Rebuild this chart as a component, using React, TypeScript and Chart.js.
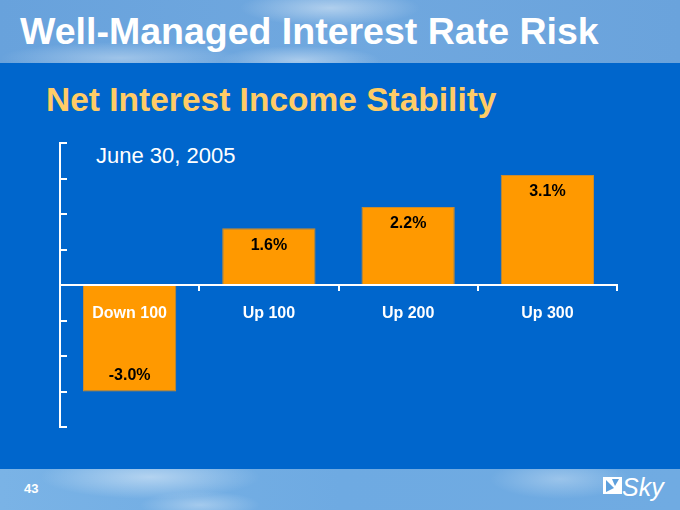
import React, { useEffect, useRef } from "react";
import { Chart, registerables } from "chart.js";

Chart.register(...registerables);

const categories = ["Down 100", "Up 100", "Up 200", "Up 300"];
const niiChange = [-3.0, 1.6, 2.2, 3.1];
const yTicks = [-4, -3, -2, -1, 0, 1, 2, 3, 4];
const titleText = "Well-Managed Interest Rate Risk";
const subtitleText = "Net Interest Income Stability";
const asOfText = "June 30, 2005";
const pageNo = "43";

const FONT = '"Liberation Sans", Arial, Helvetica, sans-serif';

export default function App() {
  const ref = useRef<HTMLCanvasElement | null>(null);

  useEffect(() => {
    const valueLabels = {
      id: "valueLabels",
      afterDatasetsDraw(chart: any) {
        const ctx = chart.ctx;
        const meta = chart.getDatasetMeta(0);
        ctx.save();
        ctx.fillStyle = "#000000";
        ctx.font = `bold 16px ${FONT}`;
        ctx.textAlign = "center";
        ctx.textBaseline = "middle";
        meta.data.forEach((bar: any, i: number) => {
          const v = niiChange[i];
          const y = v >= 0 ? bar.y + 17 : bar.y - 16;
          ctx.fillText(`${v.toFixed(1)}%`, bar.x, y);
        });
        ctx.restore();
      },
    };

    const yAxisBracket = {
      id: "yAxisBracket",
      afterDraw(chart: any) {
        const ctx = chart.ctx;
        const ys = chart.scales.y;
        const x = chart.chartArea.left;
        const top = ys.getPixelForValue(yTicks[yTicks.length - 1]);
        const bottom = ys.getPixelForValue(yTicks[0]);
        ctx.save();
        ctx.strokeStyle = "#ffffff";
        ctx.lineWidth = 2;
        ctx.beginPath();
        ctx.moveTo(x, top - 1);
        ctx.lineTo(x, bottom + 1);
        yTicks.forEach((t) => {
          const py = Math.round(ys.getPixelForValue(t));
          ctx.moveTo(x - 1, py);
          ctx.lineTo(x + 7, py);
        });
        ctx.stroke();
        ctx.restore();
      },
    };

    const chart = new Chart(ref.current as HTMLCanvasElement, {
      type: "bar",
      data: {
        labels: categories,
        datasets: [
          {
            data: niiChange,
            backgroundColor: "#FF9900",
            borderColor: "#C98A2E",
            borderWidth: 1,
            categoryPercentage: 1,
            barPercentage: 0.67,
          },
        ],
      },
      options: {
        animation: false,
        responsive: false,
        maintainAspectRatio: false,
        layout: { padding: { left: 60, right: 63, top: 143, bottom: 83 } },
        plugins: {
          legend: { display: false },
          tooltip: { enabled: false },
        },
        scales: {
          y: { display: false, min: -4, max: 4 },
          x: {
            position: { y: 0 } as any,
            grid: {
              drawOnChartArea: false,
              drawTicks: true,
              tickLength: 5,
              color: "#ffffff",
              lineWidth: 2,
              offset: true,
              z: 1,
            },
            border: { display: true, color: "#ffffff", width: 2, z: 1 },
            ticks: {
              color: "#ffffff",
              font: { family: FONT, size: 16, weight: "bold" },
              padding: 14,
              maxRotation: 0,
              z: 1,
            },
          },
        },
      } as any,
      plugins: [valueLabels, yAxisBracket],
    });
    return () => chart.destroy();
  }, []);

  const sky =
    "radial-gradient(ellipse 90px 18px at 330px 8px, rgba(255,255,255,0.45), rgba(255,255,255,0) 100%)," +
    "radial-gradient(ellipse 120px 16px at 120px 58px, rgba(255,255,255,0.35), rgba(255,255,255,0) 100%)," +
    "radial-gradient(ellipse 80px 14px at 300px 60px, rgba(255,255,255,0.4), rgba(255,255,255,0) 100%)," +
    "linear-gradient(90deg, #68a2dc 0%, #70a8df 50%, #6aa3dc 100%)";
  const skyBottom =
    "radial-gradient(ellipse 110px 22px at 150px 8px, rgba(255,255,255,0.45), rgba(255,255,255,0) 100%)," +
    "radial-gradient(ellipse 60px 14px at 200px 36px, rgba(255,255,255,0.35), rgba(255,255,255,0) 100%)," +
    "radial-gradient(ellipse 70px 20px at 560px 10px, rgba(255,255,255,0.3), rgba(255,255,255,0) 100%)," +
    "linear-gradient(90deg, #7ab3e6 0%, #6eaae2 50%, #70abe2 100%)";

  return (
    <div
      style={{
        position: "fixed",
        left: 0,
        top: 0,
        width: 680,
        height: 510,
        overflow: "hidden",
        background: "#0066CC",
        fontFamily: FONT,
      }}
    >
      <div style={{ position: "absolute", left: 0, top: 0, width: 680, height: 63, background: sky }} />
      <div style={{ position: "absolute", left: 0, top: 469, width: 680, height: 41, background: skyBottom }} />
      <div
        style={{
          position: "absolute",
          left: 20,
          top: 12,
          fontSize: 37.5,
          lineHeight: "38px",
          fontWeight: "bold",
          color: "#ffffff",
          whiteSpace: "nowrap",
        }}
      >
        {titleText}
      </div>
      <div
        style={{
          position: "absolute",
          left: 46,
          top: 83,
          fontSize: 33.5,
          lineHeight: "33px",
          fontWeight: "bold",
          color: "#FFCC66",
          whiteSpace: "nowrap",
        }}
      >
        {subtitleText}
      </div>
      <div
        style={{
          position: "absolute",
          left: 96,
          top: 145,
          fontSize: 22,
          lineHeight: "22px",
          color: "#ffffff",
          whiteSpace: "nowrap",
        }}
      >
        {asOfText}
      </div>
      <div
        style={{
          position: "absolute",
          left: 24,
          top: 482,
          fontSize: 13,
          lineHeight: "13px",
          fontWeight: "bold",
          color: "#ffffff",
        }}
      >
        {pageNo}
      </div>
      <svg
        style={{ position: "absolute", left: 600, top: 472 }}
        width={70}
        height={36}
        viewBox="0 0 70 36"
      >
        <rect x={3} y={5} width={19} height={17} fill="#ffffff" />
        <path d="M6 8 L14 16 L6 20 Z" fill="#5d9fdc" />
        <path d="M12 7 L19 7 L15 14 Z" fill="#5d9fdc" />
        <text
          x={22}
          y={24}
          fill="#ffffff"
          fontFamily={FONT}
          fontStyle="italic"
          fontSize={25}
        >
          Sky
        </text>
      </svg>
      <canvas
        ref={ref}
        width={680}
        height={510}
        style={{ position: "absolute", left: 0, top: 0, width: 680, height: 510 }}
      />
    </div>
  );
}
